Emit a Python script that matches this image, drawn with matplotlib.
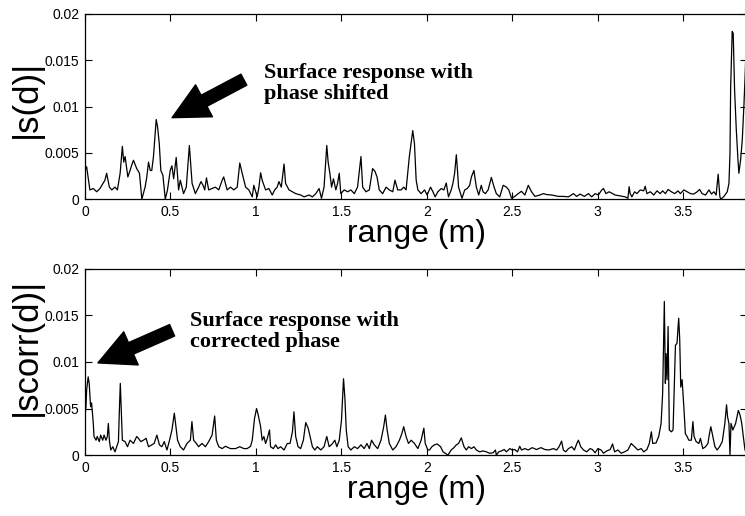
import matplotlib
matplotlib.use('Agg')
import matplotlib.pyplot as plt
import numpy as np

# |s(d)| before phase correction, range in m, magnitude in units of 1e-3
range_s = [0.000, 0.010, 0.029, 0.049, 0.069, 0.088, 0.117, 0.127, 0.143, 0.157,
           0.176, 0.190, 0.206, 0.219, 0.227, 0.235, 0.251, 0.264, 0.274, 0.284,
           0.303, 0.319, 0.333, 0.352, 0.362, 0.372, 0.382, 0.391, 0.401, 0.417,
           0.425, 0.435, 0.444, 0.456, 0.470, 0.483, 0.499, 0.509, 0.519, 0.534,
           0.548, 0.558, 0.577, 0.593, 0.611, 0.627, 0.646, 0.665, 0.679, 0.691,
           0.701, 0.711, 0.724, 0.744, 0.763, 0.783, 0.803, 0.812, 0.832, 0.852,
           0.871, 0.891, 0.906, 0.920, 0.940, 0.959, 0.979, 0.988, 1.008, 1.018,
           1.028, 1.037, 1.057, 1.076, 1.096, 1.110, 1.125, 1.135, 1.149, 1.165,
           1.174, 1.194, 1.214, 1.233, 1.262, 1.282, 1.311, 1.331, 1.351, 1.370,
           1.384, 1.399, 1.415, 1.423, 1.433, 1.443, 1.454, 1.468, 1.478, 1.488,
           1.497, 1.517, 1.537, 1.556, 1.576, 1.595, 1.615, 1.625, 1.644, 1.664,
           1.683, 1.697, 1.709, 1.722, 1.742, 1.762, 1.781, 1.801, 1.814, 1.830,
           1.850, 1.865, 1.879, 1.898, 1.918, 1.928, 1.938, 1.948, 1.967, 1.987,
           2.002, 2.022, 2.036, 2.049, 2.065, 2.085, 2.100, 2.114, 2.127, 2.143,
           2.153, 2.163, 2.173, 2.179, 2.186, 2.206, 2.222, 2.237, 2.251, 2.261,
           2.276, 2.290, 2.304, 2.319, 2.329, 2.343, 2.359, 2.378, 2.394, 2.407,
           2.427, 2.447, 2.466, 2.480, 2.496, 2.515, 2.535, 2.554, 2.574, 2.594,
           2.613, 2.633, 2.662, 2.682, 2.701, 2.731, 2.770, 2.799, 2.829, 2.858,
           2.877, 2.897, 2.922, 2.946, 2.965, 2.985, 3.004, 3.024, 3.034, 3.048,
           3.067, 3.087, 3.102, 3.132, 3.161, 3.177, 3.184, 3.190, 3.200, 3.216,
           3.230, 3.249, 3.269, 3.278, 3.288, 3.308, 3.328, 3.347, 3.366, 3.380,
           3.396, 3.412, 3.431, 3.451, 3.470, 3.484, 3.504, 3.523, 3.543, 3.562,
           3.582, 3.596, 3.611, 3.631, 3.651, 3.666, 3.680, 3.693, 3.705, 3.715,
           3.721, 3.739, 3.758, 3.768, 3.774, 3.778, 3.787, 3.793, 3.801, 3.811,
           3.821, 3.826, 3.836, 3.846, 3.856, 3.862, 3.870, 3.880]
s_mag = [3.1, 3.5, 1.0, 1.15, 0.8, 1.15, 2.05, 2.8, 1.3, 1.0,
         1.3, 1.0, 2.8, 5.7, 4.0, 4.6, 2.4, 3.1, 3.7, 4.2,
         3.3, 2.8, 0.0, 1.3, 2.4, 4.0, 3.1, 3.1, 4.6, 8.6,
         7.8, 6.0, 3.1, 2.6, 0.0, 1.0, 3.1, 3.6, 2.2, 4.5,
         1.0, 2.05, 0.6, 1.3, 5.8, 1.7, 0.6, 1.3, 1.9, 1.5,
         1.0, 2.3, 1.0, 1.15, 1.3, 1.0, 2.05, 2.4, 1.0, 1.3,
         1.0, 1.3, 3.9, 2.8, 1.3, 1.0, 0.25, 1.5, 0.25, 1.3,
         2.85, 2.05, 1.0, 1.15, 0.45, 1.0, 1.3, 1.9, 1.3, 3.8,
         1.7, 1.0, 0.8, 0.6, 0.45, 0.25, 0.45, 0.25, 0.6, 1.15,
         0.1, 1.3, 5.8, 4.0, 2.8, 1.3, 2.2, 1.0, 1.7, 2.8,
         0.6, 1.0, 0.8, 1.0, 0.6, 1.3, 4.6, 1.3, 0.8, 1.0,
         3.3, 3.0, 2.4, 1.0, 0.6, 1.3, 1.0, 0.8, 2.05, 1.0,
         1.0, 1.3, 1.0, 4.6, 7.4, 6.0, 2.05, 1.0, 0.6, 1.0,
         0.45, 1.3, 0.8, 0.25, 0.8, 1.15, 1.0, 1.75, 0.25, 1.0,
         1.7, 2.8, 4.8, 3.3, 1.3, 0.1, 1.0, 1.15, 1.5, 2.4,
         3.1, 1.3, 0.45, 1.5, 0.8, 0.6, 1.0, 2.35, 1.3, 0.6,
         0.25, 1.5, 1.3, 1.0, 0.1, 0.3, 0.6, 0.85, 0.45, 1.5,
         0.8, 0.3, 0.45, 0.6, 0.5, 0.45, 0.3, 0.3, 0.25, 0.6,
         0.3, 0.55, 0.3, 0.6, 0.25, 0.6, 0.45, 1.0, 1.15, 0.6,
         0.8, 0.6, 0.45, 0.35, 0.25, 0.1, 1.35, 0.6, 0.25, 0.8,
         0.6, 1.0, 0.9, 1.4, 0.6, 0.8, 0.45, 0.9, 0.6, 0.9,
         0.6, 1.05, 0.8, 0.6, 0.9, 0.6, 1.0, 0.8, 0.6, 0.55,
         0.8, 1.05, 0.6, 0.45, 1.0, 0.55, 0.8, 0.45, 2.7, 0.25,
         0.0, 0.3, 0.8, 1.7, 4.9, 12.1, 18.1, 17.9, 11.8, 7.5,
         4.2, 2.8, 4.2, 6.4, 10.3, 13.0, 17.4, 17.0]

# |scorr(d)| after phase correction
range_c = [0.000, 0.006, 0.010, 0.019, 0.025, 0.033, 0.039, 0.049, 0.053, 0.065,
           0.072, 0.084, 0.092, 0.104, 0.112, 0.123, 0.131, 0.137, 0.143, 0.151,
           0.163, 0.176, 0.186, 0.196, 0.201, 0.207, 0.213, 0.219, 0.235, 0.249,
           0.264, 0.284, 0.303, 0.313, 0.327, 0.342, 0.358, 0.372, 0.391, 0.405,
           0.421, 0.436, 0.450, 0.464, 0.480, 0.495, 0.509, 0.523, 0.530, 0.542,
           0.558, 0.577, 0.597, 0.617, 0.626, 0.636, 0.652, 0.665, 0.685, 0.705,
           0.724, 0.744, 0.759, 0.769, 0.783, 0.803, 0.822, 0.851, 0.881, 0.906,
           0.930, 0.949, 0.969, 0.979, 0.992, 1.004, 1.014, 1.028, 1.037, 1.047,
           1.057, 1.067, 1.080, 1.086, 1.102, 1.116, 1.129, 1.145, 1.165, 1.184,
           1.200, 1.214, 1.223, 1.233, 1.247, 1.262, 1.278, 1.292, 1.306, 1.317,
           1.331, 1.345, 1.360, 1.380, 1.399, 1.415, 1.429, 1.449, 1.462, 1.474,
           1.488, 1.501, 1.513, 1.521, 1.529, 1.540, 1.556, 1.576, 1.595, 1.615,
           1.634, 1.650, 1.664, 1.677, 1.693, 1.713, 1.732, 1.748, 1.758, 1.768,
           1.781, 1.801, 1.820, 1.840, 1.854, 1.865, 1.879, 1.893, 1.909, 1.928,
           1.948, 1.967, 1.983, 1.991, 2.006, 2.016, 2.030, 2.045, 2.061, 2.081,
           2.095, 2.108, 2.124, 2.143, 2.159, 2.173, 2.186, 2.202, 2.218, 2.231,
           2.245, 2.261, 2.276, 2.290, 2.309, 2.329, 2.349, 2.368, 2.388, 2.402,
           2.407, 2.421, 2.437, 2.453, 2.466, 2.486, 2.500, 2.515, 2.531, 2.544,
           2.554, 2.574, 2.594, 2.617, 2.642, 2.668, 2.691, 2.715, 2.740, 2.760,
           2.774, 2.789, 2.799, 2.813, 2.829, 2.848, 2.864, 2.877, 2.887, 2.901,
           2.917, 2.936, 2.955, 2.969, 2.985, 3.001, 3.020, 3.034, 3.053, 3.073,
           3.087, 3.099, 3.118, 3.138, 3.157, 3.177, 3.196, 3.216, 3.235, 3.255,
           3.269, 3.288, 3.302, 3.314, 3.322, 3.341, 3.357, 3.371, 3.380, 3.384,
           3.390, 3.396, 3.400, 3.406, 3.412, 3.419, 3.431, 3.441, 3.455, 3.464,
           3.474, 3.480, 3.486, 3.494, 3.504, 3.513, 3.523, 3.533, 3.548, 3.557,
           3.564, 3.576, 3.592, 3.601, 3.615, 3.631, 3.645, 3.654, 3.662, 3.674,
           3.686, 3.699, 3.713, 3.729, 3.744, 3.754, 3.760, 3.768, 3.774, 3.780,
           3.791, 3.807, 3.823, 3.833, 3.843, 3.852, 3.862, 3.870, 3.880]
scorr_mag = [4.1, 5.2, 7.0, 8.4, 7.7, 5.2, 5.6, 3.4, 2.0, 1.6,
             2.0, 1.45, 2.15, 1.6, 2.15, 1.6, 2.0, 3.4, 1.6, 0.55,
             0.9, 0.35, 0.9, 1.45, 4.5, 7.7, 4.5, 1.6, 1.45, 0.9,
             1.6, 1.25, 2.0, 1.8, 1.45, 1.6, 1.8, 0.9, 1.1, 1.25,
             2.15, 1.1, 0.9, 1.45, 0.55, 1.6, 2.7, 4.5, 3.4, 1.6,
             0.9, 0.55, 1.25, 1.6, 3.6, 1.6, 1.25, 0.9, 1.25, 0.9,
             1.45, 2.15, 4.2, 1.6, 0.9, 0.7, 0.95, 0.7, 0.7, 0.9,
             0.7, 0.7, 0.95, 1.6, 3.9, 5.0, 4.3, 3.05, 1.6, 2.0,
             1.25, 1.8, 2.7, 0.9, 0.7, 1.1, 0.7, 0.9, 0.55, 1.25,
             1.25, 2.5, 4.65, 2.0, 0.9, 0.7, 1.6, 3.5, 2.9, 2.0,
             0.9, 0.55, 0.9, 0.55, 0.9, 2.0, 0.9, 1.25, 1.6, 0.9,
             1.6, 3.75, 8.2, 6.1, 2.7, 0.9, 0.55, 0.9, 0.7, 1.1,
             0.7, 1.25, 0.7, 1.6, 1.1, 0.7, 1.6, 3.05, 4.3, 2.7,
             1.25, 0.55, 0.9, 1.6, 2.3, 3.05, 2.0, 1.25, 1.6, 1.25,
             0.7, 1.6, 2.9, 1.25, 0.55, 0.55, 0.9, 1.1, 1.2, 0.9,
             0.35, 0.2, 0.0, 0.55, 0.8, 1.1, 1.25, 1.85, 0.9, 0.55,
             0.9, 0.7, 0.9, 0.55, 0.35, 0.45, 0.35, 0.2, 0.25, 0.55,
             0.0, 0.35, 0.45, 0.6, 0.35, 0.7, 0.55, 0.6, 0.35, 0.95,
             0.55, 0.7, 0.55, 0.8, 0.6, 0.8, 0.6, 0.55, 0.7, 0.55,
             0.9, 1.5, 0.55, 0.35, 0.7, 0.9, 0.55, 1.2, 1.6, 0.9,
             0.55, 0.35, 0.7, 0.6, 0.25, 0.7, 0.55, 0.2, 0.45, 0.6,
             1.2, 0.35, 0.55, 0.2, 0.35, 0.55, 1.25, 0.9, 0.55, 0.7,
             0.35, 0.6, 1.25, 2.5, 1.25, 1.3, 2.0, 3.4, 6.6, 10.6,
             16.5, 7.7, 10.9, 8.1, 13.8, 2.7, 2.5, 2.7, 11.8, 12.0,
             14.7, 12.4, 7.3, 8.1, 5.2, 2.3, 2.0, 1.6, 1.6, 3.6,
             2.0, 1.45, 1.25, 1.8, 0.7, 0.9, 1.25, 2.3, 3.05, 2.0,
             0.9, 0.55, 0.9, 1.45, 3.4, 5.4, 4.1, 3.4, 0.0, 3.4,
             2.7, 3.4, 4.8, 4.3, 3.4, 2.0, 0.55, 0.2, 0.2]

x_ticks = [0, 0.5, 1, 1.5, 2, 2.5, 3, 3.5]
x_tick_labels = ['0', '0.5', '1', '1.5', '2', '2.5', '3', '3.5']
y_ticks = [0, 0.005, 0.01, 0.015, 0.02]
y_tick_labels = ['0', '0.005', '0.01', '0.015', '0.02']

plt.rcParams['font.family'] = ['Liberation Sans', 'DejaVu Sans']


def range_panel(ax, values_x, values_y, y_label, label_y_pos):
    ax.plot(values_x, np.array(values_y) * 1e-3, color='k', linewidth=0.9)
    ax.set_xlim(0, 3.875)
    ax.set_ylim(0, 0.02)
    ax.set_xticks(x_ticks)
    ax.set_xticklabels(x_tick_labels)
    ax.set_yticks(y_ticks)
    ax.set_yticklabels(y_tick_labels)
    ax.tick_params(direction='in', top=True, right=True, length=5,
                   labelsize=10, pad=4, width=0.8)
    ax.set_xlabel('range (m)', fontsize=23, labelpad=0)
    ax.set_ylabel(y_label, fontsize=25, labelpad=2)
    ax.yaxis.set_label_coords(-0.064, label_y_pos)
    for spine in ax.spines.values():
        spine.set_linewidth(0.9)


def arrow_note(ax, text, text_xy, tip_xy, tail_xy):
    ax.annotate('', xy=tip_xy, xytext=tail_xy,
                arrowprops=dict(arrowstyle='simple,head_length=1.3,head_width=1.3,tail_width=0.45',
                                color='k', shrinkA=0, shrinkB=0, mutation_scale=20))
    ax.text(text_xy[0], text_xy[1], text, family='Liberation Serif', fontweight='bold',
            fontsize=16, ha='left', va='center', linespacing=1.05)


fig = plt.figure(figsize=(7.45, 5.16), dpi=100)
ax_top = fig.add_axes([0.114, 0.614, 0.889, 0.359])
ax_bot = fig.add_axes([0.114, 0.118, 0.889, 0.361])

range_panel(ax_top, range_s, s_mag, '|s(d)|', 0.54)
range_panel(ax_bot, range_c, scorr_mag, '|scorr(d)|', 0.58)

arrow_note(ax_top, 'Surface response with\nphase shifted', (1.045, 0.0125),
           (0.51, 0.0088), (0.93, 0.0129))
arrow_note(ax_bot, 'Surface response with\ncorrected phase', (0.617, 0.0133),
           (0.076, 0.0099), (0.51, 0.0134))

fig.savefig('out.png', dpi=100)
